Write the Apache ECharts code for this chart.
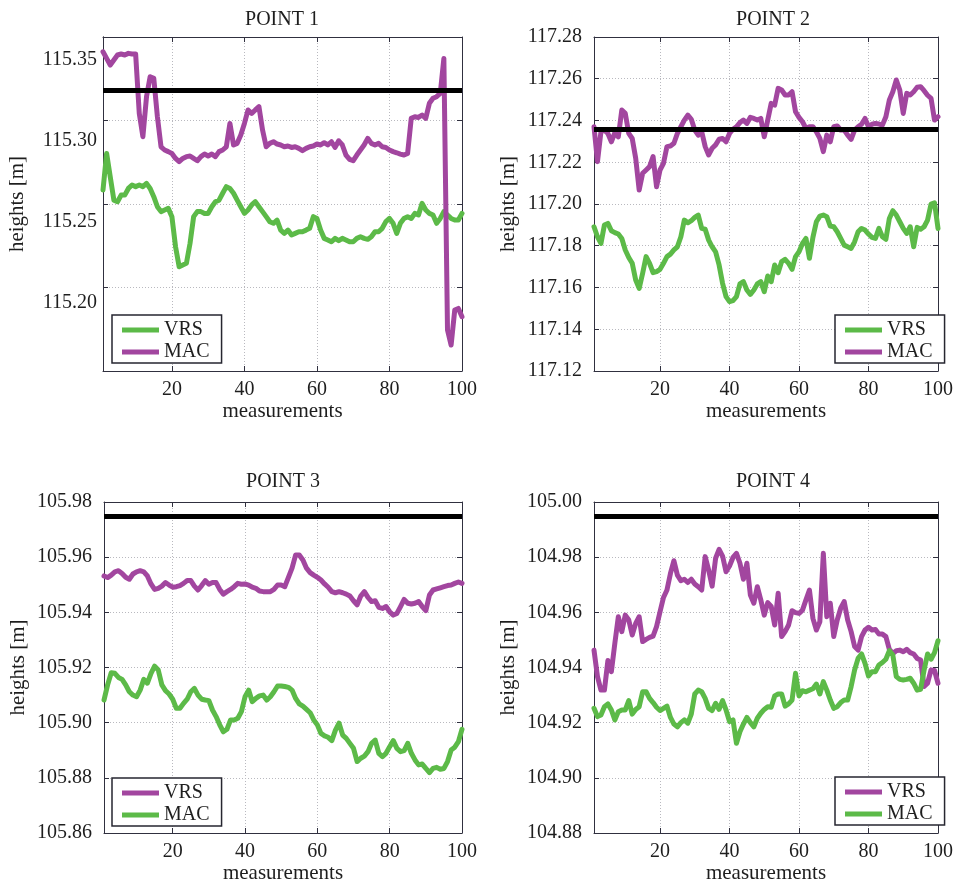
<!DOCTYPE html>
<html>
<head>
<meta charset="utf-8">
<script src="https://cdn.jsdelivr.net/npm/echarts@6/dist/echarts.min.js"></script>
<style>
  html, body { margin: 0; padding: 0; background: #ffffff; }
  #chart { width: 956px; height: 886px; }
</style>
</head>
<body>
<div id="chart"></div>
<script>
// Measurement index shared by all four stations
const measurements = Array.from({ length: 100 }, (_, i) => i + 1);

const pointTitles = ['POINT 1', 'POINT 2', 'POINT 3', 'POINT 4'];
const referenceHeights = [115.331, 117.236, 105.975, 104.995];
const xTickValues = [20, 40, 60, 80, 100];

// POINT 1
const p1Vrs = [115.2696,115.2922,115.2778,115.2634,115.2624,115.2665,115.2665,115.2706,115.2727,115.2717,
  115.2727,115.2717,115.2737,115.2706,115.2655,115.2593,115.2563,115.2573,115.2583,115.2532,
  115.2347,115.2223,115.2234,115.2244,115.2367,115.2532,115.2563,115.2563,115.2552,115.2552,
  115.2593,115.2624,115.2634,115.2676,115.2717,115.2706,115.2676,115.2634,115.2593,115.2552,
  115.2573,115.2604,115.2624,115.2593,115.2563,115.2532,115.2501,115.2491,115.2511,115.2449,
  115.2429,115.2449,115.2419,115.2429,115.2439,115.2439,115.2449,115.2460,115.2532,115.2521,
  115.2449,115.2398,115.2388,115.2377,115.2398,115.2384,115.2398,115.2388,115.2377,115.2377,
  115.2398,115.2408,115.2398,115.2392,115.2408,115.2439,115.2439,115.2460,115.2501,115.2521,
  115.2491,115.2429,115.2491,115.2521,115.2532,115.2521,115.2552,115.2542,115.2614,115.2573,
  115.2552,115.2542,115.2491,115.2521,115.2563,115.2542,115.2521,115.2511,115.2511,115.2552];
const p1Mac = [115.3549,115.3508,115.3467,115.3498,115.3529,115.3535,115.3529,115.3539,115.3535,115.3535,
  115.3169,115.3025,115.3272,115.3395,115.3385,115.3148,115.2963,115.2943,115.2933,115.2922,
  115.2891,115.2871,115.2891,115.2902,115.2906,115.2891,115.2877,115.2902,115.2918,115.2906,
  115.2918,115.2902,115.2933,115.2943,115.2963,115.3107,115.2974,115.2984,115.3035,115.3107,
  115.3190,115.3169,115.3190,115.3210,115.3066,115.2963,115.2984,115.2994,115.2980,115.2974,
  115.2963,115.2968,115.2959,115.2963,115.2953,115.2939,115.2953,115.2963,115.2968,115.2980,
  115.2974,115.2988,115.2974,115.2994,115.2959,115.3000,115.2974,115.2912,115.2885,115.2877,
  115.2912,115.2943,115.2974,115.3015,115.2984,115.2974,115.2984,115.2963,115.2959,115.2943,
  115.2933,115.2926,115.2918,115.2912,115.2922,115.3138,115.3148,115.3144,115.3159,115.3138,
  115.3231,115.3262,115.3272,115.3292,115.3508,115.1833,115.1740,115.1956,115.1966,115.1915];

// POINT 2
const p2Vrs = [117.1891,117.1843,117.1811,117.1899,117.1907,117.1872,117.1863,117.1856,117.1835,117.1780,
  117.1744,117.1716,117.1636,117.1596,117.1668,117.1748,117.1716,117.1671,117.1676,117.1687,
  117.1716,117.1748,117.1760,117.1780,117.1795,117.1843,117.1923,117.1910,117.1920,117.1936,
  117.1947,117.1883,117.1879,117.1827,117.1795,117.1771,117.1708,117.1620,117.1556,117.1532,
  117.1537,117.1556,117.1617,117.1628,117.1588,117.1567,117.1588,117.1617,117.1628,117.1580,
  117.1655,117.1628,117.1708,117.1671,117.1724,117.1735,117.1716,117.1687,117.1748,117.1771,
  117.1811,117.1835,117.1740,117.1840,117.1915,117.1942,117.1947,117.1939,117.1894,117.1891,
  117.1867,117.1835,117.1803,117.1795,117.1787,117.1819,117.1867,117.1883,117.1875,117.1856,
  117.1840,117.1835,117.1883,117.1843,117.1831,117.1931,117.1968,117.1947,117.1915,117.1883,
  117.1859,117.1891,117.1795,117.1888,117.1879,117.1891,117.1923,117.2000,117.2006,117.1883];
const p2Mac = [117.2370,117.2203,117.2346,117.2354,117.2338,117.2298,117.2342,117.2322,117.2450,117.2434,
  117.2338,117.2314,117.2219,117.2067,117.2147,117.2163,117.2179,117.2227,117.2083,117.2163,
  117.2195,117.2275,117.2278,117.2291,117.2338,117.2370,117.2402,117.2426,117.2406,117.2354,
  117.2330,117.2346,117.2275,117.2235,117.2267,117.2283,117.2310,117.2314,117.2298,117.2338,
  117.2358,117.2370,117.2390,117.2402,117.2386,117.2415,117.2410,117.2402,117.2410,117.2322,
  117.2402,117.2482,117.2474,117.2554,117.2546,117.2522,117.2522,117.2538,117.2442,117.2415,
  117.2394,117.2362,117.2370,117.2370,117.2346,117.2314,117.2251,117.2330,117.2298,117.2370,
  117.2374,117.2354,117.2354,117.2330,117.2310,117.2354,117.2370,117.2382,117.2410,117.2370,
  117.2382,117.2386,117.2383,117.2378,117.2418,117.2498,117.2538,117.2594,117.2546,117.2434,
  117.2530,117.2522,117.2538,117.2559,117.2562,117.2543,117.2521,117.2506,117.2402,117.2418];

// POINT 3
const p3Vrs = [105.9532,105.9526,105.9535,105.9547,105.9551,105.9541,105.9527,105.9520,105.9539,105.9547,
  105.9551,105.9547,105.9532,105.9503,105.9483,105.9487,105.9495,105.9508,105.9499,105.9491,
  105.9493,105.9497,105.9505,105.9515,105.9515,105.9495,105.9481,105.9497,105.9515,105.9502,
  105.9508,105.9508,105.9483,105.9466,105.9475,105.9483,105.9493,105.9505,105.9502,105.9503,
  105.9499,105.9491,105.9487,105.9477,105.9475,105.9475,105.9475,105.9483,105.9499,105.9499,
  105.9493,105.9527,105.9560,105.9608,105.9608,105.9590,105.9560,105.9544,105.9535,105.9527,
  105.9517,105.9503,105.9491,105.9475,105.9471,105.9475,105.9471,105.9466,105.9459,105.9442,
  105.9427,105.9459,105.9475,105.9454,105.9439,105.9442,105.9418,105.9414,105.9421,105.9402,
  105.9390,105.9396,105.9421,105.9447,105.9433,105.9430,105.9433,105.9439,105.9421,105.9406,
  105.9463,105.9481,105.9485,105.9489,105.9493,105.9497,105.9499,105.9505,105.9510,105.9505];
const p3Mac = [105.9082,105.9137,105.9181,105.9179,105.9164,105.9157,105.9137,105.9112,105.9100,105.9094,
  105.9118,105.9157,105.9143,105.9179,105.9205,105.9191,105.9137,105.9116,105.9104,105.9085,
  105.9052,105.9052,105.9070,105.9085,105.9112,105.9124,105.9100,105.9085,105.9082,105.9080,
  105.9046,105.9022,105.8992,105.8967,105.8976,105.9010,105.9010,105.9016,105.9040,105.9094,
  105.9118,105.9076,105.9088,105.9097,105.9100,105.9082,105.9094,105.9112,105.9133,105.9133,
  105.9131,105.9128,105.9118,105.9088,105.9068,105.9060,105.9048,105.9036,105.9010,105.8992,
  105.8961,105.8952,105.8947,105.8935,105.8973,105.8998,105.8955,105.8943,105.8925,105.8907,
  105.8859,105.8871,105.8879,105.8895,105.8925,105.8937,105.8889,105.8877,105.8889,105.8913,
  105.8935,105.8907,105.8895,105.8899,105.8925,105.8889,105.8865,105.8847,105.8850,105.8834,
  105.8819,105.8834,105.8838,105.8831,105.8834,105.8859,105.8901,105.8911,105.8931,105.8976];

// POINT 4
const p4Vrs = [104.9463,104.9367,104.9318,104.9318,104.9425,104.9385,104.9488,104.9584,104.9530,104.9590,
  104.9572,104.9518,104.9560,104.9584,104.9494,104.9502,104.9509,104.9514,104.9548,104.9602,
  104.9654,104.9681,104.9741,104.9787,104.9735,104.9715,104.9720,104.9708,104.9720,104.9703,
  104.9693,104.9681,104.9802,104.9753,104.9695,104.9796,104.9828,104.9804,104.9747,104.9768,
  104.9799,104.9814,104.9778,104.9720,104.9778,104.9663,104.9633,104.9693,104.9645,104.9590,
  104.9635,104.9621,104.9554,104.9669,104.9512,104.9530,104.9554,104.9606,104.9599,104.9596,
  104.9608,104.9645,104.9681,104.9578,104.9536,104.9566,104.9814,104.9584,104.9633,104.9512,
  104.9572,104.9615,104.9639,104.9572,104.9530,104.9476,104.9463,104.9512,104.9536,104.9546,
  104.9536,104.9538,104.9521,104.9521,104.9512,104.9466,104.9451,104.9461,104.9463,104.9457,
  104.9466,104.9454,104.9449,104.9433,104.9427,104.9331,104.9343,104.9391,104.9389,104.9343];
const p4Mac = [104.9252,104.9222,104.9228,104.9258,104.9268,104.9246,104.9210,104.9240,104.9246,104.9246,
  104.9280,104.9231,104.9248,104.9258,104.9312,104.9312,104.9288,104.9273,104.9256,104.9244,
  104.9252,104.9260,104.9219,104.9195,104.9185,104.9200,104.9210,104.9198,104.9231,104.9304,
  104.9318,104.9312,104.9288,104.9252,104.9244,104.9270,104.9248,104.9280,104.9246,104.9204,
  104.9210,104.9125,104.9167,104.9195,104.9219,104.9200,104.9185,104.9216,104.9234,104.9248,
  104.9258,104.9256,104.9297,104.9304,104.9304,104.9260,104.9268,104.9282,104.9379,104.9297,
  104.9316,104.9312,104.9318,104.9323,104.9340,104.9304,104.9349,104.9318,104.9282,104.9252,
  104.9258,104.9273,104.9282,104.9282,104.9331,104.9391,104.9433,104.9449,104.9415,104.9369,
  104.9385,104.9385,104.9409,104.9418,104.9430,104.9461,104.9445,104.9367,104.9357,104.9355,
  104.9357,104.9361,104.9343,104.9318,104.9321,104.9391,104.9449,104.9430,104.9454,104.9497];

// Height tick labels per station
const p1YTicks = [115.20, 115.25, 115.30, 115.35];
const p2YTicks = [117.12, 117.28, 0.02];   // min, max, step
const p3YTicks = [105.86, 105.98, 0.02];
const p4YTicks = [104.88, 105.00, 0.02];

const GREEN = '#5cba48';
const PURPLE = '#a2469f';
const FRAME = '#30303f';
const TEXT = '#1e1e1e';
const FONT = "'Liberation Serif', 'DejaVu Serif', serif";

const panels = [
  { grid: { left: 103, top: 37, width: 359, height: 334 }, titleX: 282, titleTop: 10,
    lines: [['VRS', p1Vrs, GREEN], ['MAC', p1Mac, PURPLE]],
    legend: { left: 112, top: 315 }, labelMargin: 6,
    yLabelAxis: { min: 115.158, max: 115.364, customValues: p1YTicks },
    frame: { min: 0, max: 4, interval: 1 } },
  { grid: { left: 594, top: 37, width: 358, height: 334 }, titleX: 773, titleTop: 10,
    lines: [['VRS', p2Vrs, GREEN], ['MAC', p2Mac, PURPLE]],
    legend: { left: 835, top: 315 }, labelMargin: 12,
    frame: { min: p2YTicks[0], max: p2YTicks[1], interval: p2YTicks[2] } },
  { grid: { left: 104, top: 502, width: 358, height: 331 }, titleX: 283, titleTop: 472,
    lines: [['VRS', p3Vrs, PURPLE], ['MAC', p3Mac, GREEN]],
    legend: { left: 112, top: 778 }, labelMargin: 12,
    frame: { min: p3YTicks[0], max: p3YTicks[1], interval: p3YTicks[2] } },
  { grid: { left: 594, top: 502, width: 358, height: 331 }, titleX: 773, titleTop: 472,
    lines: [['VRS', p4Vrs, PURPLE], ['MAC', p4Mac, GREEN]],
    legend: { left: 835, top: 777 }, labelMargin: 12,
    frame: { min: p4YTicks[0], max: p4YTicks[1], interval: p4YTicks[2] } }
];

const isXTick = (idx) => xTickValues.indexOf(measurements[idx]) !== -1;
const axisLine = { show: true, onZero: false, lineStyle: { color: FRAME, width: 1 } };
const inTick = { show: true, inside: true, length: 5, lineStyle: { color: FRAME, width: 1 } };
const dotted = { show: true, lineStyle: { color: '#b9b9bf', width: 1, type: [1, 2] } };
const labelFont = { fontFamily: FONT, fontSize: 20, color: TEXT };

const option = {
  animation: false,
  backgroundColor: '#ffffff',
  title: [], grid: [], xAxis: [], yAxis: [], series: [], legend: []
};

panels.forEach((p, i) => {
  option.grid.push(Object.assign({ containLabel: false, show: false }, p.grid));
  option.title.push({
    text: pointTitles[i], left: p.titleX, top: p.titleTop, textAlign: 'center', padding: 0,
    textStyle: { fontFamily: FONT, fontSize: 20, fontWeight: 'normal', color: TEXT }
  });

  // bottom and mirrored top x axes
  const xBottom = option.xAxis.length;
  option.xAxis.push({
    type: 'category', gridIndex: i, data: measurements, boundaryGap: false, position: 'bottom',
    axisLine, axisTick: Object.assign({ interval: isXTick }, inTick),
    axisLabel: Object.assign({ interval: isXTick, margin: 9 }, labelFont),
    splitLine: Object.assign({ interval: isXTick }, dotted),
    name: 'measurements', nameLocation: 'middle', nameGap: 30,
    nameTextStyle: { fontFamily: FONT, fontSize: 21, color: TEXT }
  });
  option.xAxis.push({
    type: 'category', gridIndex: i, data: measurements, boundaryGap: false, position: 'top',
    axisLine, axisTick: Object.assign({ interval: isXTick }, inTick),
    axisLabel: { show: false }, splitLine: { show: false }
  });

  const fmt = (v) => Number(v).toFixed(2);
  let valueAxis;
  if (p.yLabelAxis) {
    // labelled height axis plus a separate frame axis carrying grid lines and ticks
    valueAxis = option.yAxis.length;
    option.yAxis.push({
      type: 'value', gridIndex: i, position: 'left', min: p.yLabelAxis.min, max: p.yLabelAxis.max,
      axisLine, axisTick: { show: false }, splitLine: { show: false },
      axisLabel: Object.assign({ customValues: p.yLabelAxis.customValues, formatter: fmt, margin: p.labelMargin }, labelFont),
      name: 'heights [m]', nameLocation: 'middle', nameGap: 75,
      nameTextStyle: { fontFamily: FONT, fontSize: 21, color: TEXT }
    });
    option.yAxis.push({
      type: 'value', gridIndex: i, position: 'left', min: p.frame.min, max: p.frame.max, interval: p.frame.interval,
      axisLine, axisTick: inTick, axisLabel: { show: false }, splitLine: dotted
    });
  } else {
    valueAxis = option.yAxis.length;
    option.yAxis.push({
      type: 'value', gridIndex: i, position: 'left', min: p.frame.min, max: p.frame.max, interval: p.frame.interval,
      axisLine, axisTick: inTick, splitLine: dotted,
      axisLabel: Object.assign({ formatter: fmt, margin: p.labelMargin }, labelFont),
      name: 'heights [m]', nameLocation: 'middle', nameGap: 75,
      nameTextStyle: { fontFamily: FONT, fontSize: 21, color: TEXT }
    });
  }
  option.yAxis.push({
    type: 'value', gridIndex: i, position: 'right', min: p.frame.min, max: p.frame.max, interval: p.frame.interval,
    axisLine, axisTick: inTick, axisLabel: { show: false }, splitLine: { show: false }
  });

  const names = [];
  p.lines.forEach(([label, values, color], k) => {
    const name = label + '|' + (i + 1);
    names.push(name);
    const s = {
      type: 'line', name, xAxisIndex: xBottom, yAxisIndex: valueAxis, data: values,
      symbol: 'none', showSymbol: false, color, z: 2 + k,
      lineStyle: { color, width: 5, cap: 'round', join: 'round' }
    };
    if (k === p.lines.length - 1) {
      // reference height of the station
      s.markLine = {
        silent: true, symbol: ['none', 'none'], z: 10, animation: false, precision: 4,
        label: { show: false },
        lineStyle: { color: '#000000', width: 5, type: 'solid' },
        data: [{ yAxis: referenceHeights[i] }]
      };
    }
    option.series.push(s);
  });

  option.legend.push({
    data: names, left: p.legend.left, top: p.legend.top, orient: 'vertical',
    icon: 'rect', itemWidth: 37, itemHeight: 5, itemGap: 2,
    padding: [5, 12, 1, 10], backgroundColor: '#ffffff',
    borderColor: '#262630', borderWidth: 1.5, borderRadius: 0,
    formatter: (n) => n.split('|')[0],
    textStyle: { fontFamily: FONT, fontSize: 20, color: TEXT, lineHeight: 20 },
    selectedMode: false
  });
});

const chart = echarts.init(document.getElementById('chart'), null, { renderer: 'canvas' });
chart.setOption(option);
</script>
</body>
</html>
